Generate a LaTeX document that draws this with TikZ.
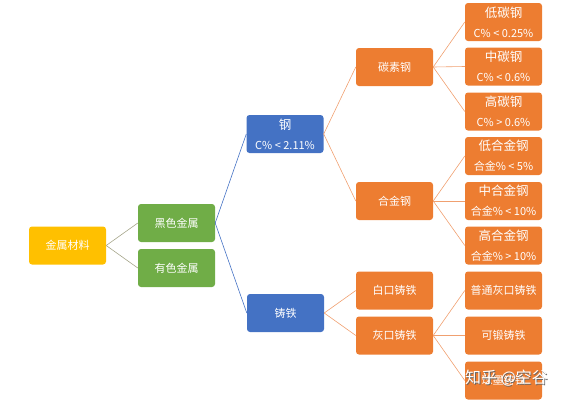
\documentclass[tikz,border=0pt]{standalone}
\usepackage{fontspec}
\setmainfont{Noto Sans CJK SC}
\newcommand{\titleline}[1]{{\fontsize{12.5}{20}\selectfont #1}}
\begin{document}
\begin{tikzpicture}[x=1pt,y=-1pt,
  box/.style={rounded corners=3pt, minimum width=77pt, minimum height=38pt, text=white, font=\fontsize{11}{20}\selectfont, align=center, inner sep=0pt},
  ybox/.style={box, fill=ylw},
  gbox/.style={box, fill=grn},
  bbox/.style={box, fill=blu},
  obox/.style={box, fill=org},
  gline/.style={draw=gln, line width=0.6pt},
  bline/.style={draw=blu, line width=0.6pt},
  oline/.style={draw=oln, line width=0.6pt}]
\definecolor{ylw}{HTML}{FFC000}
\definecolor{grn}{HTML}{70AD47}
\definecolor{blu}{HTML}{4472C4}
\definecolor{org}{HTML}{ED7D31}
\definecolor{gln}{HTML}{A5A58A}
\definecolor{oln}{HTML}{F0A070}
\useasboundingbox (0,0) rectangle (571,400);
\node[ybox] (jscl) at (67.5,245.5) {金属材料};
\node[gbox] (hsjs) at (176.5,223) {黑色金属};
\node[gbox] (ysjs) at (176.5,268) {有色金属};
\node[bbox] (gang) at (285,134) {\titleline{钢}\\C\% < 2.11\%};
\node[bbox] (zt) at (285.5,313) {铸铁};
\node[obox] (tsg) at (394.5,67) {碳素钢};
\node[obox] (hjg) at (394.5,201) {合金钢};
\node[obox] (bkzt) at (394.5,290.5) {白口铸铁};
\node[obox] (hkzt) at (394.5,335.5) {灰口铸铁};
\node[obox] (dtg) at (503.5,22) {\titleline{低碳钢}\\C\% < 0.25\%};
\node[obox] (ztg) at (503.5,66.5) {\titleline{中碳钢}\\C\% < 0.6\%};
\node[obox] (gtg) at (503.5,111.5) {\titleline{高碳钢}\\C\% > 0.6\%};
\node[obox] (dhjg) at (503.5,156) {\titleline{低合金钢}\\合金\% < 5\%};
\node[obox] (zhjg) at (503.5,201) {\titleline{中合金钢}\\合金\% < 10\%};
\node[obox] (ghjg) at (503.5,245.5) {\titleline{高合金钢}\\合金\% > 10\%};
\node[obox] (pthk) at (503.5,290.5) {普通灰口铸铁};
\node[obox] (kdzt) at (503.5,335.5) {可锻铸铁};
\node[obox] (qmzt) at (503.5,380.5) {球墨铸铁};
\draw[gline] (jscl.east) -- (hsjs.west);
\draw[gline] (jscl.east) -- (ysjs.west);
\draw[bline] (hsjs.east) -- (gang.west);
\draw[bline] (hsjs.east) -- (zt.west);
\draw[oline] (gang.east) -- (tsg.west);
\draw[oline] (gang.east) -- (hjg.west);
\draw[oline] (zt.east) -- (bkzt.west);
\draw[oline] (zt.east) -- (hkzt.west);
\foreach \t in {dtg,ztg,gtg} \draw[oline] (tsg.east) -- (\t.west);
\foreach \t in {dhjg,zhjg,ghjg} \draw[oline] (hjg.east) -- (\t.west);
\foreach \t in {pthk,kdzt,qmzt} \draw[oline] (hkzt.east) -- (\t.west);
\node[text=black!60, font=\fontsize{16}{16}\selectfont, anchor=west, inner sep=0pt] (wm1) at (465.8,378.8) {知乎 @空谷};
\node[text=white, font=\fontsize{16}{16}\selectfont, anchor=west, inner sep=0pt] (wm2) at (465,378) {知乎 @空谷};
\end{tikzpicture}
\end{document}
